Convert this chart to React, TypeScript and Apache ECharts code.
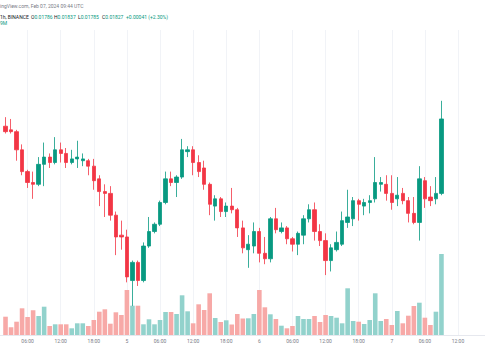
import React, { useEffect, useRef } from "react";
import * as echarts from "echarts";

// ---------- data ----------
const START_UTC = Date.UTC(2024, 1, 4, 1); // first slot: 01:00 Feb 4 (no candle, partly off-screen)
const SLOTS = 94; // hourly slots drawn on the time axis
const LEAD = 1; // empty slots before the first candle

const OPEN = [
  0.01823, 0.01821, 0.0182, 0.0181, 0.01798, 0.01792, 0.01791, 0.01802, 0.01806, 0.01803,
  0.0181, 0.01808, 0.01803, 0.01805, 0.01804, 0.01804, 0.01801, 0.01794, 0.01787, 0.01786,
  0.01774, 0.01763, 0.01762, 0.01738, 0.01748, 0.01738, 0.01757, 0.01765, 0.01769, 0.01781,
  0.01794, 0.01792, 0.01795, 0.01809, 0.0181, 0.01803, 0.018, 0.01791, 0.01779, 0.01783,
  0.01776, 0.01779, 0.01777, 0.01767, 0.01755, 0.01757, 0.01765, 0.01753, 0.0175, 0.01772,
  0.01765, 0.01767, 0.01761, 0.01758, 0.01763, 0.01772, 0.01777, 0.01765, 0.0176, 0.01749,
  0.01755, 0.01758, 0.0177, 0.01772, 0.01782, 0.01779, 0.01781, 0.01783, 0.01791, 0.01791,
  0.01786, 0.01783, 0.01786, 0.01782, 0.01775, 0.0177, 0.01793, 0.01784, 0.01783, 0.01786,
];
const HIGH = [
  0.01828, 0.01827, 0.01821, 0.01813, 0.01799, 0.01798, 0.01806, 0.01814, 0.01808, 0.01817,
  0.01814, 0.01811, 0.0181, 0.01815, 0.01808, 0.01805, 0.01805, 0.01796, 0.01791, 0.0179,
  0.01776, 0.01771, 0.01766, 0.01749, 0.01749, 0.01759, 0.01773, 0.0177, 0.01782, 0.01798,
  0.01798, 0.01796, 0.01816, 0.01812, 0.01812, 0.01807, 0.01804, 0.01792, 0.01785, 0.01784,
  0.01781, 0.01789, 0.01778, 0.01771, 0.01763, 0.0177, 0.01767, 0.01762, 0.01773, 0.01778,
  0.0177, 0.01768, 0.01762, 0.01765, 0.01774, 0.0178, 0.01781, 0.01769, 0.01764, 0.01758,
  0.01765, 0.01776, 0.01788, 0.01784, 0.01783, 0.01783, 0.01785, 0.01806, 0.01795, 0.01796,
  0.01796, 0.01795, 0.01789, 0.01784, 0.01784, 0.01801, 0.01795, 0.0179, 0.01795, 0.01837,
];
const LOW = [
  0.01819, 0.01819, 0.01804, 0.01796, 0.01789, 0.01783, 0.0179, 0.0179, 0.018, 0.01802,
  0.01803, 0.018, 0.01802, 0.018, 0.01801, 0.01796, 0.01788, 0.01779, 0.01773, 0.01771,
  0.01752, 0.01755, 0.01737, 0.01724, 0.01735, 0.01737, 0.01756, 0.01764, 0.01768, 0.0178,
  0.0179, 0.01784, 0.01794, 0.01806, 0.01796, 0.01795, 0.01788, 0.01774, 0.01771, 0.01773,
  0.01773, 0.01775, 0.01762, 0.01753, 0.01745, 0.01753, 0.01748, 0.01747, 0.01748, 0.01764,
  0.01764, 0.01758, 0.01754, 0.01752, 0.01758, 0.0177, 0.0176, 0.01757, 0.01741, 0.01743,
  0.01754, 0.01757, 0.01767, 0.01768, 0.01771, 0.01774, 0.01775, 0.01781, 0.01787, 0.01782,
  0.01777, 0.01779, 0.0178, 0.0177, 0.01769, 0.0176, 0.01778, 0.01779, 0.0178, 0.01785,
];
const CLOSE = [
  0.0182, 0.0182, 0.0181, 0.01798, 0.01792, 0.01791, 0.01802, 0.01806, 0.01803, 0.0181,
  0.01808, 0.01803, 0.01805, 0.01806, 0.01805, 0.01801, 0.01793, 0.01787, 0.01786, 0.01774,
  0.01762, 0.01762, 0.0174, 0.01748, 0.01738, 0.01757, 0.01765, 0.01769, 0.01781, 0.01794,
  0.01792, 0.01795, 0.0181, 0.0181, 0.01803, 0.01798, 0.01791, 0.0178, 0.01783, 0.01776,
  0.01779, 0.01777, 0.01767, 0.01756, 0.01758, 0.01765, 0.01753, 0.0175, 0.01772, 0.01766,
  0.01767, 0.01761, 0.01758, 0.01764, 0.01772, 0.01777, 0.01765, 0.0176, 0.01749, 0.01756,
  0.01759, 0.01771, 0.01773, 0.01782, 0.0178, 0.01781, 0.01782, 0.01792, 0.01792, 0.01786,
  0.01781, 0.01785, 0.01782, 0.01775, 0.0177, 0.01794, 0.01783, 0.01782, 0.01786, 0.01827,
];
// volume, thousands
const VOLUME = [
  183, 77, 133, 267, 180, 247, 190, 283, 90, 107,
  107, 107, 67, 117, 117, 90, 150, 233, 257, 113,
  227, 200, 450, 293, 293, 107, 157, 107, 150, 230,
  230, 210, 397, 237, 117, 307, 250, 417, 170, 130,
  147, 105, 210, 165, 167, 210, 450, 277, 207, 160,
  93, 67, 90, 190, 160, 160, 190, 130, 200, 190,
  173, 117, 467, 140, 133, 110, 150, 417, 140, 160,
  100, 240, 117, 193, 290, 323, 173, 100, 233, 810,
];
const PRICE_GRID_LEVELS = [0.0177, 0.0176, 0.0175];

const SOURCE_TEXT = "ingView.com, Feb 07, 2024 09:44 UTC";
const SYMBOL_TEXT = "1h, BINANCE";
const VOL_TEXT = "9M";

// ---------- styling ----------
const UP = "#089981";
const DOWN = "#f23645";
const UP_VOL = "#92d2cc";
const DOWN_VOL = "#f7a9a7";
const FONT = "Roboto, 'Noto Sans', sans-serif";
const SLOT_W = 5.54;
const GRID_LEFT = 3.5 - LEAD * SLOT_W;
const HEAD_FS = 5;

const categories: string[] = [];
for (let k = 0; k < SLOTS; k++) {
  categories.push(new Date(START_UTC + k * 3600000).toISOString());
}
const hourOf = (v: string) => Number(v.slice(11, 13));

export default function App() {
  const ref = useRef<HTMLDivElement>(null);

  useEffect(() => {
    if (!ref.current) return;
    const chart = echarts.init(ref.current, undefined, { renderer: "svg" });

    const candleData: any[] = [];
    const volData: any[] = [];
    for (let k = 0; k < LEAD; k++) {
      candleData.push(["-", "-", "-", "-"]);
      volData.push("-");
    }
    OPEN.forEach((o, i) => {
      candleData.push([o, CLOSE[i], LOW[i], HIGH[i]]);
      volData.push({
        value: VOLUME[i],
        itemStyle: { color: CLOSE[i] >= o ? UP_VOL : DOWN_VOL },
      });
    });

    const last = CLOSE.length - 1;
    const chg = CLOSE[last] - OPEN[last];
    const pct = (chg / OPEN[last]) * 100;
    const sign = chg >= 0 ? "+" : "-";
    const chgText = `${sign}${Math.abs(chg).toFixed(5)} (${sign}${Math.abs(pct).toFixed(2)}%)`;
    const valColor = chg >= 0 ? UP : DOWN;

    const ohlc: [string, number, number][] = [
      ["O", OPEN[last], 31],
      ["H", HIGH[last], 54],
      ["L", LOW[last], 78],
      ["C", CLOSE[last], 102],
    ];

    const rich = {
      d: { fill: "#131722", fontSize: HEAD_FS, fontFamily: FONT },
      g: { fill: valColor, fontSize: HEAD_FS, fontFamily: FONT },
    };

    const labelInterval = (_i: number, v: string) => hourOf(v) % 6 === 0;

    chart.setOption({
      animation: false,
      backgroundColor: "#ffffff",
      grid: [
        { left: GRID_LEFT, top: 30, width: (SLOTS - 1) * SLOT_W, height: 305 },
        { left: GRID_LEFT, top: 245, width: (SLOTS - 1) * SLOT_W, height: 90 },
      ],
      xAxis: [
        {
          type: "category",
          gridIndex: 0,
          data: categories,
          boundaryGap: false,
          axisLine: { show: false },
          axisTick: { show: false },
          axisLabel: { show: false },
          splitLine: {
            show: true,
            interval: labelInterval,
            lineStyle: { color: "#f1f3f7", width: 1 },
          },
        },
        {
          type: "category",
          gridIndex: 1,
          data: categories,
          boundaryGap: false,
          axisLine: { show: true, lineStyle: { color: "#e6e8ee", width: 1 } },
          axisTick: { show: false },
          splitLine: { show: false },
          axisLabel: {
            interval: labelInterval,
            formatter: (v: string) =>
              hourOf(v) === 0 ? String(Number(v.slice(8, 10))) : v.slice(11, 16),
            fontSize: 5,
            color: "#787b86",
            fontFamily: FONT,
            margin: 3.5,
          },
        },
      ],
      yAxis: [
        { type: "value", gridIndex: 0, min: 0.01708, max: 0.01876, show: false },
        { type: "value", gridIndex: 1, min: 0, max: 900, show: false },
      ],
      series: [
        {
          type: "bar",
          xAxisIndex: 1,
          yAxisIndex: 1,
          data: volData,
          barWidth: 4.6,
          clip: false,
          z: 1,
        },
        {
          type: "candlestick",
          xAxisIndex: 0,
          yAxisIndex: 0,
          data: candleData,
          barWidth: 3.8,
          clip: false,
          z: 3,
          itemStyle: {
            color: UP,
            color0: DOWN,
            borderColor: UP,
            borderColor0: DOWN,
            borderWidth: 0.8,
          },
          markLine: {
            silent: true,
            symbol: ["none", "none"],
            label: { show: false },
            data: [
              ...PRICE_GRID_LEVELS.map((v) => ({
                yAxis: v,
                lineStyle: { color: "#eef0f4", width: 1, type: "solid" },
              })),
              {
                yAxis: CLOSE[last],
                lineStyle: { color: "#d6e7e3", width: 1, type: "solid" },
              },
            ],
          },
        },
      ],
      graphic: [
        {
          type: "text",
          left: 0,
          top: 3.2,
          style: { text: SOURCE_TEXT, fill: "#787b86", fontSize: HEAD_FS, fontFamily: FONT },
        },
        {
          type: "text",
          left: 0,
          top: 14.2,
          style: { text: SYMBOL_TEXT, fill: "#131722", fontSize: HEAD_FS, fontFamily: FONT },
        },
        ...ohlc.map(([k, v, x]) => ({
          type: "text",
          left: x,
          top: 14.2,
          style: {
            text: `{d|${k}}{g|${v.toFixed(5)}}`,
            rich,
            fontSize: HEAD_FS,
            fontFamily: FONT,
          },
        })),
        {
          type: "text",
          left: 126,
          top: 14.2,
          style: { text: chgText, fill: valColor, fontSize: HEAD_FS, fontFamily: FONT },
        },
        {
          type: "text",
          left: 0,
          top: 20.8,
          style: { text: VOL_TEXT, fill: UP, fontSize: HEAD_FS, fontFamily: FONT },
        },
      ],
    });

    return () => chart.dispose();
  }, []);

  return (
    <div
      style={{
        position: "fixed",
        left: 0,
        top: 0,
        width: 485,
        height: 360,
        overflow: "hidden",
        background: "#ffffff",
      }}
    >
      <div ref={ref} style={{ width: 530, height: 360 }} />
    </div>
  );
}
